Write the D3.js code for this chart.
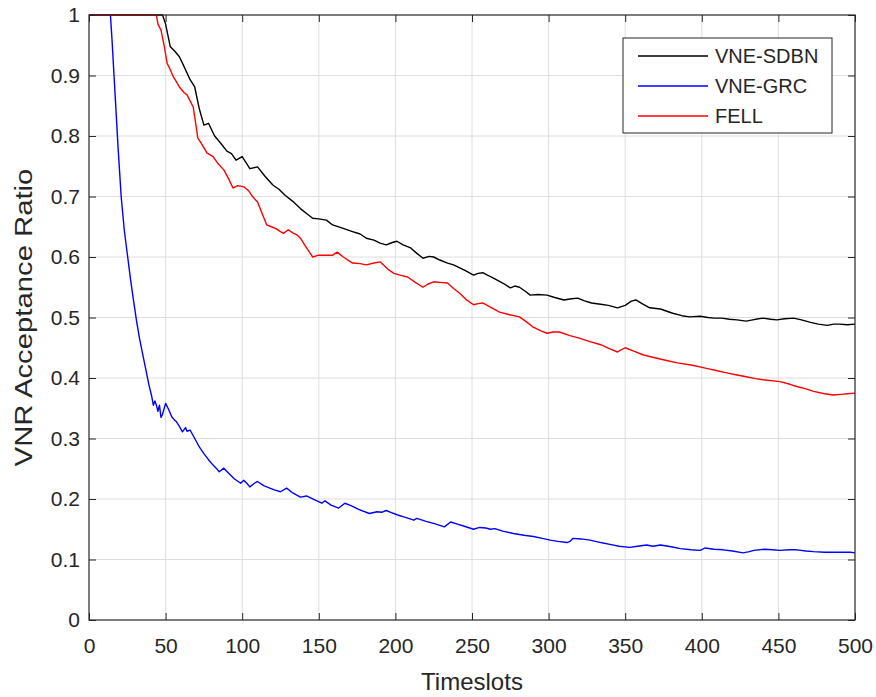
<!DOCTYPE html>
<html>
<head>
<meta charset="utf-8">
<script src="https://cdn.jsdelivr.net/npm/d3@7"></script>
<style>
  html, body { margin: 0; padding: 0; background: #fff; }
  svg { display: block; font-family: "Liberation Sans", Arial, sans-serif; }
</style>
</head>
<body>
<svg id="chart" width="876" height="697"></svg>
<script>
// ---- data ----
const seriesNames = ["VNE-SDBN", "VNE-GRC", "FELL"];
const seriesColors = ["#000000", "#0000ff", "#ff0000"];
const xTicks = [0, 50, 100, 150, 200, 250, 300, 350, 400, 450, 500];
const yTicks = [0, 0.1, 0.2, 0.3, 0.4, 0.5, 0.6, 0.7, 0.8, 0.9, 1];

const sdbn = [[0,1],[48,1],[50,0.985],[53,0.948],[56,0.94],[59,0.931],[62,0.915],[66,0.893],[69,0.881],[72,0.845],[75,0.818],[78,0.821],[82,0.80],[86,0.788],[90,0.775],[93,0.771],[96,0.76],[100,0.766],[105,0.746],[110,0.749],[115,0.733],[120,0.719],[124,0.712],[128,0.702],[133,0.692],[138,0.68],[142,0.672],[146,0.664],[150,0.663],[155,0.661],[159,0.653],[165,0.648],[172,0.642],[177,0.638],[181,0.631],[186,0.628],[190,0.623],[194,0.62],[198,0.624],[201,0.626],[205,0.62],[210,0.615],[214,0.606],[218,0.598],[222,0.601],[225,0.6],[229,0.595],[234,0.59],[238,0.587],[242,0.582],[246,0.577],[251,0.57],[254,0.573],[257,0.574],[261,0.569],[264,0.565],[270,0.557],[275,0.549],[278,0.552],[281,0.55],[285,0.543],[288,0.537],[293,0.538],[299,0.537],[304,0.533],[310,0.529],[315,0.531],[319,0.532],[323,0.528],[328,0.524],[334,0.522],[339,0.52],[345,0.516],[350,0.52],[354,0.527],[357,0.529],[361,0.523],[366,0.516],[373,0.514],[381,0.507],[387,0.503],[392,0.501],[399,0.502],[404,0.5],[408,0.499],[413,0.499],[418,0.497],[423,0.496],[429,0.494],[435,0.497],[440,0.499],[445,0.497],[449,0.496],[454,0.498],[460,0.499],[465,0.496],[471,0.492],[476,0.489],[482,0.487],[486,0.489],[490,0.489],[495,0.488],[500,0.489]];

const grc = [[0,1],[14,1],[15,0.96],[17,0.87],[19,0.78],[21,0.70],[23,0.645],[25,0.605],[27,0.565],[29,0.529],[31,0.495],[33,0.465],[35,0.44],[37,0.415],[39,0.39],[41,0.369],[42,0.355],[43,0.362],[44,0.355],[45,0.345],[46,0.355],[47,0.335],[48,0.34],[50,0.358],[52,0.348],[54,0.336],[56,0.33],[57,0.328],[59,0.32],[61,0.311],[63,0.318],[64,0.312],[66,0.314],[69,0.3],[72,0.286],[75,0.275],[78,0.265],[81,0.256],[83,0.251],[85,0.245],[88,0.251],[91,0.243],[95,0.233],[99,0.226],[101,0.231],[103,0.226],[105,0.22],[108,0.226],[110,0.229],[114,0.222],[118,0.218],[121,0.215],[125,0.212],[129,0.218],[133,0.21],[138,0.203],[142,0.205],[147,0.199],[152,0.193],[154,0.197],[158,0.19],[163,0.185],[167,0.193],[171,0.189],[176,0.183],[183,0.176],[188,0.179],[191,0.178],[194,0.181],[197,0.178],[201,0.174],[206,0.17],[212,0.165],[214,0.168],[220,0.163],[226,0.159],[232,0.154],[236,0.162],[240,0.159],[245,0.155],[251,0.15],[255,0.153],[259,0.152],[262,0.15],[265,0.151],[270,0.147],[277,0.143],[284,0.14],[290,0.138],[296,0.135],[301,0.132],[306,0.13],[312,0.128],[314,0.13],[316,0.135],[321,0.134],[327,0.132],[334,0.128],[340,0.125],[346,0.122],[353,0.12],[358,0.122],[364,0.124],[368,0.122],[373,0.124],[380,0.121],[386,0.118],[393,0.116],[399,0.115],[402,0.119],[408,0.117],[414,0.116],[420,0.114],[427,0.111],[431,0.113],[434,0.115],[441,0.117],[446,0.116],[451,0.115],[457,0.116],[462,0.116],[468,0.114],[473,0.113],[480,0.112],[486,0.112],[492,0.112],[497,0.112],[500,0.111]];

const fell = [[0,1],[44,1],[45,0.985],[47,0.975],[49,0.95],[51,0.92],[53,0.91],[55,0.898],[57,0.89],[59,0.881],[62,0.872],[64,0.868],[66,0.858],[68,0.848],[70,0.815],[71,0.797],[74,0.785],[77,0.772],[81,0.766],[84,0.755],[88,0.744],[91,0.73],[94,0.714],[97,0.718],[101,0.716],[104,0.71],[107,0.699],[110,0.691],[113,0.672],[116,0.653],[119,0.65],[122,0.647],[125,0.642],[127,0.639],[130,0.645],[133,0.64],[136,0.636],[138,0.631],[142,0.615],[146,0.6],[150,0.603],[155,0.603],[159,0.603],[162,0.608],[166,0.6],[172,0.59],[177,0.589],[181,0.587],[186,0.59],[190,0.592],[195,0.58],[199,0.573],[203,0.57],[208,0.567],[213,0.558],[218,0.55],[221,0.555],[225,0.559],[229,0.558],[234,0.557],[238,0.548],[242,0.54],[246,0.53],[251,0.521],[254,0.523],[257,0.524],[262,0.517],[268,0.509],[274,0.505],[281,0.501],[286,0.492],[290,0.484],[295,0.478],[299,0.474],[303,0.476],[307,0.476],[314,0.47],[320,0.466],[327,0.46],[334,0.455],[340,0.448],[345,0.443],[350,0.45],[356,0.444],[362,0.438],[370,0.433],[377,0.429],[384,0.425],[394,0.421],[403,0.416],[410,0.412],[417,0.408],[423,0.405],[429,0.402],[435,0.399],[440,0.397],[451,0.394],[457,0.39],[462,0.386],[468,0.382],[473,0.378],[480,0.374],[486,0.372],[491,0.373],[495,0.374],[500,0.375]];

const seriesData = [sdbn, grc, fell];

// ---- layout ----
const W = 876, H = 697;
const margin = { left: 89, right: 21, top: 15, bottom: 77 };
const iw = W - margin.left - margin.right;
const ih = H - margin.top - margin.bottom;
const axisColor = "#262626";

const svg = d3.select("#chart");
const g = svg.append("g").attr("transform", `translate(${margin.left},${margin.top})`);

const x = d3.scaleLinear().domain([0, 500]).range([0, iw]);
const y = d3.scaleLinear().domain([0, 1]).range([ih, 0]);

// grid
g.append("g").selectAll("line.vx").data(xTicks.slice(1, -1)).join("line")
  .attr("x1", d => x(d)).attr("x2", d => x(d)).attr("y1", 0).attr("y2", ih)
  .attr("stroke", "#dedede").attr("stroke-width", 1);
g.append("g").selectAll("line.hy").data(yTicks.slice(1, -1)).join("line")
  .attr("x1", 0).attr("x2", iw).attr("y1", d => y(d)).attr("y2", d => y(d))
  .attr("stroke", "#dedede").attr("stroke-width", 1);

// lines
const line = d3.line().x(d => x(d[0])).y(d => y(d[1]));
seriesData.forEach((s, i) => {
  g.append("path").datum(s)
    .attr("fill", "none")
    .attr("stroke", seriesColors[i])
    .attr("stroke-width", 1.4)
    .attr("stroke-linejoin", "round")
    .attr("d", line);
});

// axes
const tickLen = 7;
const fmtY = d => d === 0 ? "0" : d === 1 ? "1" : d3.format(".1f")(d);
const xAxis = g.append("g").attr("transform", `translate(0,${ih})`)
  .call(d3.axisBottom(x).tickValues(xTicks).tickSizeInner(-tickLen).tickSizeOuter(0).tickPadding(18).tickFormat(d3.format("d")));
const yAxis = g.append("g")
  .call(d3.axisLeft(y).tickValues(yTicks).tickSizeInner(-tickLen).tickSizeOuter(0).tickPadding(9).tickFormat(fmtY));
const xTop = g.append("g")
  .call(d3.axisTop(x).tickValues(xTicks).tickSizeInner(-tickLen).tickSizeOuter(0).tickFormat(""));
const yRight = g.append("g").attr("transform", `translate(${iw},0)`)
  .call(d3.axisRight(y).tickValues(yTicks).tickSizeInner(-tickLen).tickSizeOuter(0).tickFormat(""));

[xAxis, yAxis, xTop, yRight].forEach(a => {
  a.select(".domain").remove();
  a.selectAll(".tick line").attr("stroke", axisColor).attr("stroke-width", 1);
  a.selectAll(".tick text").attr("fill", axisColor).style("font-size", "21px")
    .style("font-family", '"Liberation Sans", Arial, sans-serif');
});

// box
g.append("rect").attr("x", 0).attr("y", 0).attr("width", iw).attr("height", ih)
  .attr("fill", "none").attr("stroke", axisColor).attr("stroke-width", 1.2);

// axis titles
svg.append("text")
  .attr("x", margin.left + iw / 2).attr("y", 690)
  .attr("text-anchor", "middle").attr("fill", axisColor)
  .style("font-size", "24px").text("Timeslots");
svg.append("text")
  .attr("transform", `translate(32,${margin.top + ih / 2}) rotate(-90) scale(1.22,1)`)
  .attr("text-anchor", "middle").attr("fill", axisColor)
  .style("font-size", "24px").text("VNR Acceptance Ratio");

// legend
const lg = svg.append("g").attr("transform", "translate(623,38)");
lg.append("rect").attr("width", 209).attr("height", 95)
  .attr("fill", "#fff").attr("stroke", axisColor).attr("stroke-width", 1);
seriesNames.forEach((name, i) => {
  const cy = 18 + i * 30;
  lg.append("line").attr("x1", 15).attr("x2", 85).attr("y1", cy).attr("y2", cy)
    .attr("stroke", seriesColors[i]).attr("stroke-width", 1.4);
  lg.append("text").attr("x", 92).attr("y", cy).attr("dy", "0.36em")
    .attr("fill", axisColor).style("font-size", "20px").text(name);
});
</script>
</body>
</html>
